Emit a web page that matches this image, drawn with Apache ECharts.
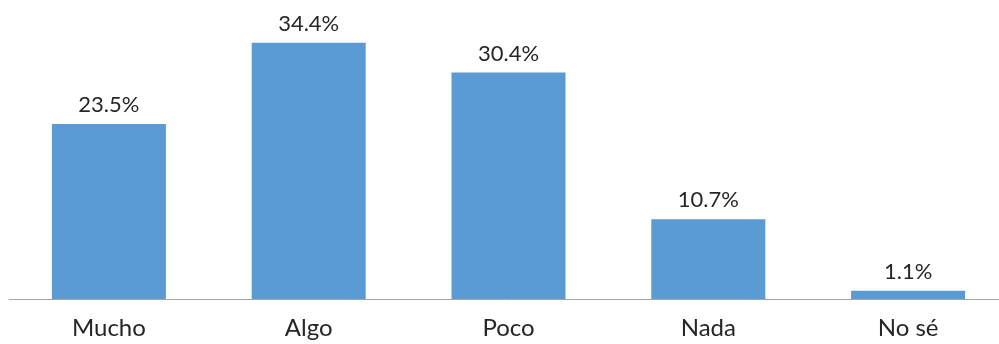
<!DOCTYPE html>
<html>
<head>
<meta charset="utf-8">
<script src="https://cdn.jsdelivr.net/npm/echarts@6/dist/echarts.min.js"></script>
<style>html,body{margin:0;padding:0;background:#fff}#c{width:999px;height:344px}</style>
</head>
<body>
<div id="c"></div>
<script>
const categories = ['Mucho', 'Algo', 'Poco', 'Nada', 'No sé'];
const values = [23.5, 34.4, 30.4, 10.7, 1.1];

const chart = echarts.init(document.getElementById('c'), null, {renderer: 'canvas'});
chart.setOption({
  animation: false,
  grid: {left: 9, width: 999, top: 1, bottom: 45, containLabel: false, outerBoundsMode: 'none'},
  xAxis: {
    type: 'category',
    data: categories,
    axisTick: {show: false},
    axisLine: {lineStyle: {color: '#a6a6a6', width: 1}},
    axisLabel: {color: '#262626', fontSize: 24, fontFamily: 'Lato', margin: 17}
  },
  yAxis: {
    type: 'value', min: 0, max: 40,
    show: false,
    splitLine: {show: false}
  },
  series: [{
    type: 'bar',
    data: values,
    barWidth: 114,
    itemStyle: {color: '#5b9bd5'},
    label: {
      show: true, position: 'top', distance: 8,
      color: '#262626', fontSize: 22, fontFamily: 'Lato',
      formatter: p => p.value.toFixed(1) + '%'
    }
  }]
});
</script>
</body>
</html>
